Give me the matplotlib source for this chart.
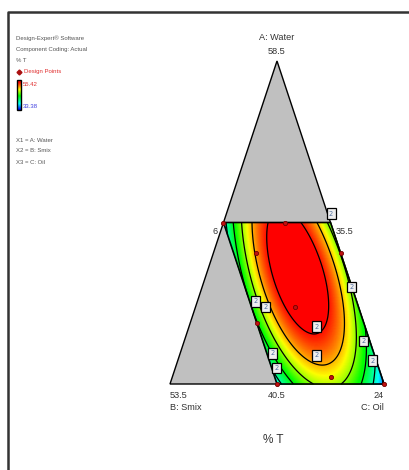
import numpy as np
import matplotlib
matplotlib.use("Agg")
import matplotlib.pyplot as plt
from matplotlib.colors import LinearSegmentedColormap
from matplotlib.patches import Polygon

### data (actual units, total = 100)
# components: A Water, B Smix, C Oil
comp_names = ["A: Water", "B: Smix", "C: Oil"]
low = [40.5, 35.5, 6.0]
high = [58.5, 53.5, 24.0]
a_max, b_max = 49.5, 44.5          # extra constraints -> parallelogram region
resp_min, resp_max = 33.38, 55.42

# design points (single runs)
pt_water = [49.5, 49.5, 47.8, 47.8, 44.8, 43.9, 40.9, 40.5, 40.5]
pt_smix = [44.5, 39.3, 42.6, 35.5, 40.8, 44.5, 39.8, 44.5, 35.5]
# replicated design points (boxes with "2")
rep_water = [50.0, 45.9, 45.1, 44.8, 43.7, 42.1, 42.2, 41.4, 42.9, 41.8]
rep_smix = [35.2, 35.5, 44.0, 43.3, 39.6, 40.4, 44.0, 44.1, 36.0, 35.8]

# fitted surface in region coords u (Smix 44.5 -> 35.5), v (Water 40.5 -> 49.5)
# f = peak(v) - width(v) * (u - ridge(v))^2
peak_coef = [47.2, 26.1, -18.6]
width_coef = [42.0, 9.0]
ridge_coef = [0.47, 0.10]
levels = [36.0, 39.5, 43.0, 46.5, 50.0, 53.5]

### geometry (pixel space of the 410x470 picture)
VA, VB, VC = (277, 61), (170, 384), (384, 384)


def tern_xy(w, s):
    w, s = np.asarray(w, float), np.asarray(s, float)
    o = 100 - w - s
    fa = (w - low[0]) / 18
    fb = (s - low[1]) / 18
    fc = (o - low[2]) / 18
    x = fa * VA[0] + fb * VB[0] + fc * VC[0]
    y = fa * VA[1] + fb * VB[1] + fc * VC[1]
    return x, y


fig = plt.figure(figsize=(4.1, 4.7), dpi=100)
ax = fig.add_axes([0, 0, 1, 1])
ax.set_xlim(0, 410)
ax.set_ylim(470, 0)
ax.axis("off")

# frame
ax.plot([8, 8, 410], [470, 12, 12], color="#333333", lw=1.8)

# gray simplex
ax.add_patch(Polygon([VA, VB, VC], closed=True, fc="#c0c0c0", ec="k", lw=1, zorder=1))

# response surface
cmap = LinearSegmentedColormap.from_list(
    "de", [(0, "#0000ff"), (0.2, "#00ffff"), (0.47, "#00ff00"),
           (0.69, "#ffff00"), (0.93, "#ff0000"), (1, "#ff0000")])
u, v = np.meshgrid(np.linspace(0, 1, 220), np.linspace(0, 1, 220))
peak = np.polyval(peak_coef[::-1], v)
width = np.polyval(width_coef[::-1], v)
ridge = np.polyval(ridge_coef[::-1], v)
F = peak - width * (u - ridge) ** 2
X, Y = tern_xy(low[0] + (a_max - low[0]) * v, b_max - (b_max - low[1]) * u)
ax.pcolormesh(X, Y, F, cmap=cmap, vmin=resp_min, vmax=resp_max,
              shading="gouraud", zorder=2)
ax.contour(X, Y, F, levels=levels, colors="k", linewidths=0.9, zorder=3)

corners_w = [a_max, a_max, low[0], low[0]]
corners_s = [b_max, low[1], low[1], b_max]
cx, cy = tern_xy(corners_w, corners_s)
ax.add_patch(Polygon(np.c_[cx, cy], closed=True, fill=False, ec="k", lw=1.2, zorder=4))

# design points
px, py = tern_xy(pt_water, pt_smix)
ax.plot(px, py, "o", ms=3.0, mfc="#c01010", mec="#700000", mew=0.6, zorder=5)
rx, ry = tern_xy(rep_water, rep_smix)
for x, y in zip(rx, ry):
    ax.text(x, y, "2", fontsize=4.8, color="#5070a0", ha="center", va="center",
            zorder=6, bbox=dict(boxstyle="square,pad=0.35", fc="#eeeeee", ec="k", lw=0.9))

# vertex labels
nfont = ["Liberation Sans Narrow", "Liberation Sans", "DejaVu Sans"]
tc = "#333333"
vf = dict(fontsize=6.6, family=nfont, color=tc, va="center")
ax.text(VA[0], 38, comp_names[0], ha="center", **vf)
ax.text(VA[0], 51, f"{high[0]:g}", ha="center", **vf)
ax.text(VB[0], 396, f"{high[1]:g}", ha="left", **vf)
ax.text(VB[0], 408, comp_names[1], ha="left", **vf)
ax.text(VC[0], 396, f"{high[2]:g}", ha="right", **vf)
ax.text(VC[0], 408, comp_names[2], ha="right", **vf)
ax.text(277, 396, f"{low[0]:g}", ha="center", **vf)
ax.text(cx[0] - 6, cy[0] + 9, f"{low[2]:g}", ha="right", **vf)
ax.text(cx[1] + 5, cy[1] + 9, f"{low[1]:g}", ha="left", **vf)
ax.text(273, 440, "% T", ha="center", va="center", fontsize=8.5, family=nfont, color=tc)

# legend block
lf = dict(fontsize=4.3, family=nfont, color="#555555", va="center", ha="left")
ax.text(16, 38, "Design-Expert® Software", **lf)
ax.text(16, 50, "Component Coding: Actual", **lf)
ax.text(16, 60, "% T", **lf)
ax.plot([19], [72], "D", ms=2.5, color="#aa1010")
ax.text(24, 72, "Design Points", **{**lf, "color": "#e03030"})
ax.imshow(np.linspace(1, 0, 60)[:, None], cmap=cmap, aspect="auto",
          extent=[17, 21, 110, 80], zorder=3)
ax.add_patch(plt.Rectangle((17, 80), 4, 30, fill=False, ec="k", lw=1, zorder=4))
ax.text(23, 84, f"{resp_max:.2f}", **{**lf, "color": "#e03030"})
ax.text(23, 107, f"{resp_min:.2f}", **{**lf, "color": "#4040e0"})
ax.text(16, 140, "X1 = A: Water", **lf)
ax.text(16, 151, "X2 = B: Smix", **lf)
ax.text(16, 162, "X3 = C: Oil", **lf)

fig.savefig("out.png", dpi=100)
